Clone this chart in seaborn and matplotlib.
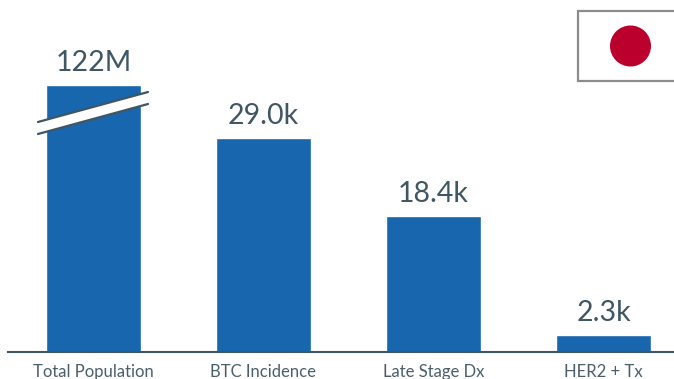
import matplotlib
matplotlib.use("Agg")
import matplotlib.pyplot as plt
import seaborn as sns
import pandas as pd
from matplotlib.patches import Rectangle, Circle, Polygon
from matplotlib.lines import Line2D

categories = ["Total Population", "BTC Incidence", "Late Stage Dx", "HER2 + Tx"]
# values in thousands; the first bar is broken, so its drawn height is truncated
drawn_values = [36.2, 29.0, 18.4, 2.3]
value_labels = ["122M", "29.0k", "18.4k", "2.3k"]

BLUE = "#1766AE"
SLATE = "#3F5663"
W, H = 674, 379

sns.set_theme(style="white")
plt.rcParams["font.family"] = ["Lato", "DejaVu Sans"]

fig = plt.figure(figsize=(W / 100, H / 100), dpi=100)
ax = fig.add_axes([8 / W, (H - 352) / H, (W - 8) / W, 352 / H])
df = pd.DataFrame({"cat": categories, "val": drawn_values})
sns.barplot(data=df, x="cat", y="val", color=BLUE, saturation=1, width=0.562, ax=ax)
ax.set_xlim(-0.503, 3.415)
ax.set_ylim(0, 47.75)
ax.set_xlabel("")
ax.set_ylabel("")
ax.set_yticks([])
ax.tick_params(axis="x", length=0, pad=8.8, labelsize=12, labelcolor="#4A5F6B")
for s in ["top", "left", "right"]:
    ax.spines[s].set_visible(False)
ax.spines["bottom"].set_color(SLATE)
ax.spines["bottom"].set_linewidth(1.5)
for bar, label in zip(ax.patches, value_labels):
    ax.annotate(label, (bar.get_x() + bar.get_width() / 2, bar.get_height()),
                xytext=(0, 10), textcoords="offset points", ha="center", va="baseline",
                fontsize=20.5, color=SLATE)

# overlay in pixel coordinates for the axis break and the flag
ov = fig.add_axes([0, 0, 1, 1], facecolor="none")
ov.set_xlim(0, W)
ov.set_ylim(H, 0)
ov.axis("off")
ov.add_patch(Polygon([(38, 122), (148, 92), (148, 104), (38, 134)], closed=True, fc="white", ec="none"))
ov.add_line(Line2D([38, 148], [122, 92], color=SLATE, lw=1.6))
ov.add_line(Line2D([38, 148], [134, 104], color=SLATE, lw=1.6))
ov.add_patch(Rectangle((578, 11), 110, 70, fc="white", ec="#8C8C8C", lw=1.6))
ov.add_patch(Circle((630.5, 46), 20.5, fc="#BC002D", ec="none"))

fig.savefig("out.png", dpi=100)
